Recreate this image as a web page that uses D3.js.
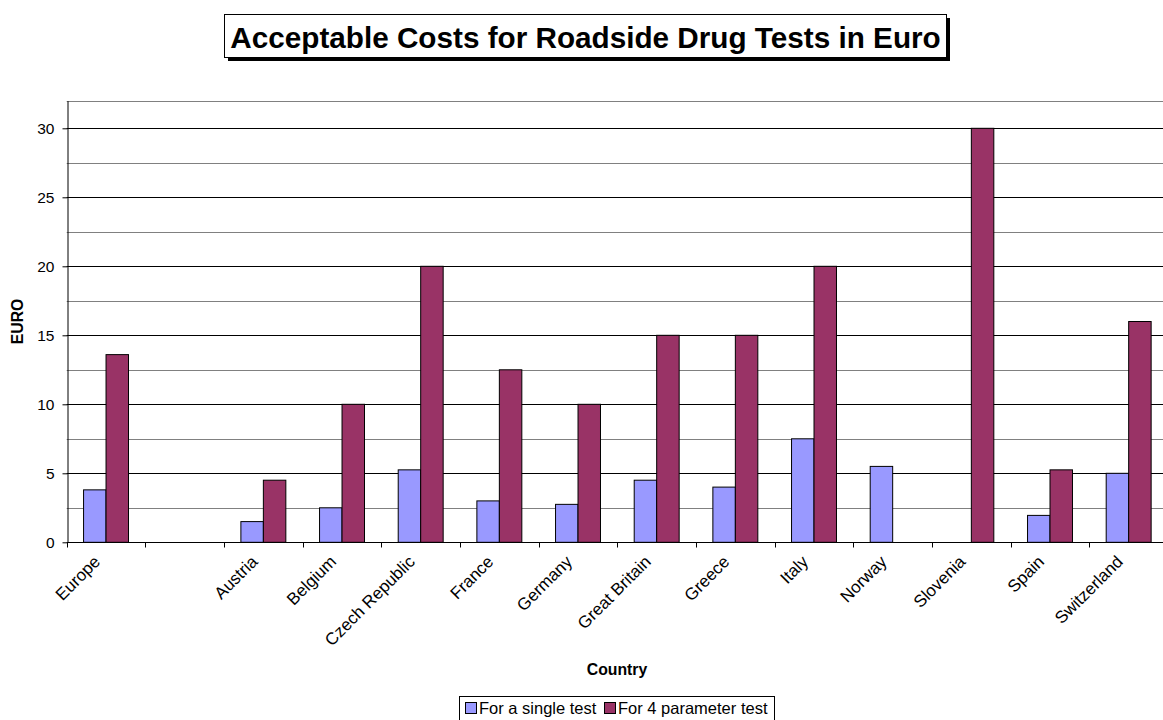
<!DOCTYPE html>
<html>
<head>
<meta charset="utf-8">
<script src="https://cdn.jsdelivr.net/npm/d3@7"></script>
<style>
html,body{margin:0;padding:0;background:#fff;}
svg{display:block;font-family:"Liberation Sans",Arial,sans-serif;}
</style>
</head>
<body>
<svg id="chart" width="1163" height="720"></svg>
<script>
const categories = ["Europe", "", "Austria", "Belgium", "Czech Republic", "France", "Germany", "Great Britain", "Greece", "Italy", "Norway", "Slovenia", "Spain", "Switzerland"];
const seriesNames = ["For a single test", "For 4 parameter test"];
const singleTest = [3.8, null, 1.5, 2.5, 5.25, 3, 2.75, 4.5, 4, 7.5, 5.5, null, 1.95, 5];
const fourParam = [13.6, null, 4.5, 10, 20, 12.5, 10, 15, 15, 20, null, 30, 5.25, 16];
const yTicks = [0, 5, 10, 15, 20, 25, 30];
const yMinor = [2.5, 7.5, 12.5, 17.5, 22.5, 27.5, 32];
const colors = ["#9999FF", "#993366"];

(function () {
const svg = d3.select("#chart");
const pLeft = 66.7, pRight = 1168, pTop = 100.7, pBottom = 542.3;
const FONT = "Liberation Sans, Arial, sans-serif";

const x = d3.scaleBand().domain(d3.range(categories.length)).range([pLeft, pRight]).paddingInner(0).paddingOuter(0);
const y = d3.scaleLinear().domain([0, 32]).range([pBottom, pTop]);
const bw = x.bandwidth() / 3.5;
const x1 = d3.scaleBand().domain([0, 1]).range([0, 2 * bw]);

// Title box
const tg = svg.append("g");
tg.append("rect").attr("x", 228).attr("y", 18).attr("width", 722).attr("height", 43).attr("fill", "#000");
tg.append("rect").attr("x", 224.5).attr("y", 14.5).attr("width", 722).attr("height", 43).attr("fill", "#fff").attr("stroke", "#000").attr("stroke-width", 1);
tg.append("text").attr("x", 585.5).attr("y", 48).attr("text-anchor", "middle")
  .attr("font-size", 29.7).attr("font-weight", "bold").text("Acceptable Costs for Roadside Drug Tests in Euro");

// gridlines
svg.append("g").selectAll("line").data(yMinor).join("line")
  .attr("x1", pLeft).attr("x2", pRight).attr("y1", d => Math.round(y(d)) + 0.5).attr("y2", d => Math.round(y(d)) + 0.5)
  .attr("stroke", "#808080").attr("stroke-width", 1);
svg.append("g").selectAll("line").data(yTicks.filter(d => d > 0)).join("line")
  .attr("x1", pLeft).attr("x2", pRight).attr("y1", d => Math.round(y(d)) + 0.5).attr("y2", d => Math.round(y(d)) + 0.5)
  .attr("stroke", "#000").attr("stroke-width", 1);

// bars
const g = svg.append("g");
categories.forEach((c, i) => {
  [singleTest[i], fourParam[i]].forEach((v, s) => {
    if (v == null) return;
    g.append("rect")
      .attr("x", x(i) + (x.bandwidth() - 2 * bw) / 2 + x1(s))
      .attr("y", y(v))
      .attr("width", x1.bandwidth())
      .attr("height", y(0) - y(v))
      .attr("fill", colors[s]).attr("stroke", "#000").attr("stroke-width", 1);
  });
});

// y axis
const yAxis = svg.append("g").attr("transform", `translate(${Math.round(pLeft)+0.5},0)`)
  .call(d3.axisLeft(y).tickValues(yTicks).tickSize(5).tickSizeOuter(0).tickPadding(8).tickFormat(d3.format("d")));
yAxis.attr("font-size", null).attr("font-family", null);
yAxis.select(".domain").attr("stroke", "#000");
yAxis.selectAll(".tick line").attr("stroke", "#000");
yAxis.selectAll("text").attr("font-size", 15.5).attr("fill", "#000").attr("font-family", FONT);

// x axis
const xb = d3.scaleLinear().domain([0, categories.length]).range([pLeft, pRight]);
const xAxis = svg.append("g").attr("transform", `translate(0,${Math.round(pBottom)+0.5})`);
xAxis.append("line").attr("x1", pLeft).attr("x2", pRight).attr("stroke", "#000");
xAxis.selectAll("line.tk").data(d3.range(categories.length + 1)).join("line").attr("class", "tk")
  .attr("x1", d => Math.round(xb(d)) + 0.5).attr("x2", d => Math.round(xb(d)) + 0.5)
  .attr("y1", 0).attr("y2", 5).attr("stroke", "#000");
xAxis.selectAll("text").data(categories).join("text")
  .attr("transform", (d, i) => `translate(${x(i) + x.bandwidth() / 2 - 9},16) rotate(-45)`)
  .attr("text-anchor", "end").attr("font-size", 17).attr("dy", "0.35em").text(d => d);

// axis titles
svg.append("text").attr("x", 617).attr("y", 675).attr("text-anchor", "middle")
  .attr("font-size", 15.8).attr("font-weight", "bold").text("Country");
svg.append("text").attr("transform", `translate(23,${(pTop + pBottom) / 2}) rotate(-90)`).attr("text-anchor", "middle")
  .attr("font-size", 15.8).attr("font-weight", "bold").text("EURO");

// legend
const lg = svg.append("g");
lg.append("rect").attr("x", 459.5).attr("y", 696.5).attr("width", 315).attr("height", 30).attr("fill", "#fff").attr("stroke", "#000");
const items = lg.selectAll("g").data(seriesNames).join("g")
  .attr("transform", (d, i) => `translate(${i === 0 ? 465 : 604},0)`);
items.append("rect").attr("x", 0.5).attr("y", 702.5).attr("width", 11).attr("height", 11)
  .attr("fill", (d, i) => colors[i]).attr("stroke", "#000");
items.append("text").attr("x", 14).attr("y", 714).attr("font-size", 16.5).text(d => d);
})();
</script>
</body>
</html>
